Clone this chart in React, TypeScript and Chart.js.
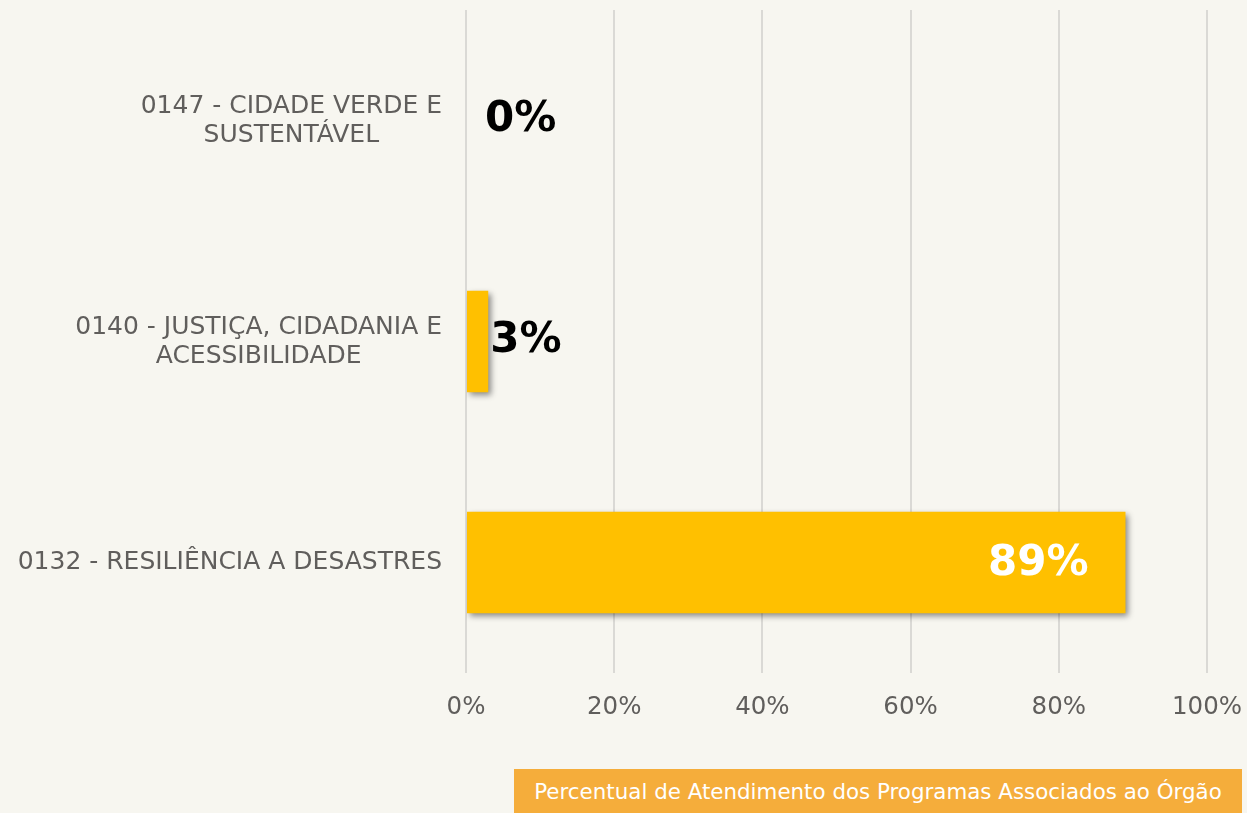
import React, { useEffect, useRef } from "react";
import { Chart, registerables } from "chart.js";

Chart.register(...registerables);

const categories: string[][] = [
  ["0147 - CIDADE VERDE E", "SUSTENTÁVEL"],
  ["0140 - JUSTIÇA, CIDADANIA E", "ACESSIBILIDADE"],
  ["0132 - RESILIÊNCIA A DESASTRES"],
];
const values: number[] = [0, 3, 89];
const xTickValues: number[] = [0, 20, 40, 60, 80, 100];
const footerTitle = "Percentual de Atendimento dos Programas Associados ao Órgão";

const FONT = "'DejaVu Sans', Verdana, sans-serif";
const TEXT_GRAY = "#605E5C";
const BG = "#F7F6F0";
const BAR = "#FFC000";

export default function App() {
  const ref = useRef<HTMLCanvasElement | null>(null);

  useEffect(() => {
    if (!ref.current) return;

    const shadowPlugin = {
      id: "barShadow",
      beforeDatasetDraw(chart: any) {
        const ctx = chart.ctx;
        ctx.save();
        ctx.shadowColor = "rgba(0,0,0,0.45)";
        ctx.shadowBlur = 6;
        ctx.shadowOffsetX = 3;
        ctx.shadowOffsetY = 3;
      },
      afterDatasetDraw(chart: any) {
        chart.ctx.restore();
      },
    };

    const labelsPlugin = {
      id: "customLabels",
      afterDatasetsDraw(chart: any) {
        const ctx = chart.ctx;
        const area = chart.chartArea;
        const yScale = chart.scales.y;
        // category labels
        ctx.save();
        ctx.font = `25px ${FONT}`;
        ctx.fillStyle = TEXT_GRAY;
        ctx.textAlign = "center";
        ctx.textBaseline = "middle";
        const lh = 29;
        categories.forEach((lines, i) => {
          const y = yScale.getPixelForValue(i);
          const widest = Math.max(...lines.map((l) => ctx.measureText(l).width));
          const cx = area.left - 24 - widest / 2;
          lines.forEach((l, j) => {
            ctx.fillText(l, cx, y + (j - (lines.length - 1) / 2) * lh);
          });
        });
        ctx.restore();

        // data labels
        const meta = chart.getDatasetMeta(0);
        ctx.save();
        ctx.font = `bold 42px ${FONT}`;
        ctx.textBaseline = "middle";
        meta.data.forEach((bar: any, i: number) => {
          const v = values[i];
          const text = `${v}%`;
          if (v >= 50) {
            ctx.fillStyle = "#FFFFFF";
            ctx.textAlign = "right";
            ctx.fillText(text, bar.x - 37, bar.y + 2);
          } else {
            ctx.fillStyle = "#000000";
            ctx.textAlign = "left";
            ctx.fillText(text, Math.max(bar.x + 2, area.left + 19), bar.y);
          }
        });
        ctx.restore();
      },
    };

    const chart = new Chart(ref.current, {
      type: "bar",
      data: {
        labels: categories.map((c) => c.join(" ")),
        datasets: [
          {
            data: values,
            backgroundColor: BAR,
            borderWidth: 0,
            categoryPercentage: 1,
            barPercentage: 0.46,
          },
        ],
      },
      options: {
        indexAxis: "y",
        animation: false,
        responsive: false,
        maintainAspectRatio: false,
        layout: { padding: { top: 10, right: 0, left: 0, bottom: 0 } },
        plugins: {
          legend: { display: false },
          tooltip: { enabled: false },
        },
        scales: {
          x: {
            min: 0,
            max: 100,
            afterFit(scale: any) {
              scale.height = 140;
              scale.paddingRight = 40;
            },
            afterBuildTicks(scale: any) {
              scale.ticks = xTickValues.map((v) => ({ value: v }));
            },
            ticks: {
              padding: 20,
              color: TEXT_GRAY,
              font: { family: FONT, size: 24.5 },
              callback: (v: any) => `${v}%`,
              maxRotation: 0,
            },
            grid: {
              color: "#DAD9D5",
              lineWidth: 2,
              drawTicks: false,
            },
            border: { display: false },
          },
          y: {
            afterFit(scale: any) {
              scale.width = 466;
            },
            ticks: { display: false },
            grid: { display: false },
            border: { display: false },
          },
        },
      },
      plugins: [shadowPlugin, labelsPlugin],
    });
    return () => chart.destroy();
  }, []);

  return (
    <div
      style={{
        position: "fixed",
        left: 0,
        top: 0,
        width: 1247,
        height: 813,
        background: BG,
        overflow: "hidden",
      }}
    >
      <canvas ref={ref} width={1247} height={813} style={{ position: "absolute", left: 0, top: 0 }} />
      <div
        style={{
          position: "absolute",
          left: 514,
          top: 769,
          width: 728,
          height: 44,
          background: "#F5AD3B",
          color: "#FFFFFF",
          fontFamily: FONT,
          fontSize: 21.4,
          display: "flex",
          alignItems: "center",
          justifyContent: "center",
          whiteSpace: "nowrap",
        }}
      >
        {footerTitle}
      </div>
    </div>
  );
}
